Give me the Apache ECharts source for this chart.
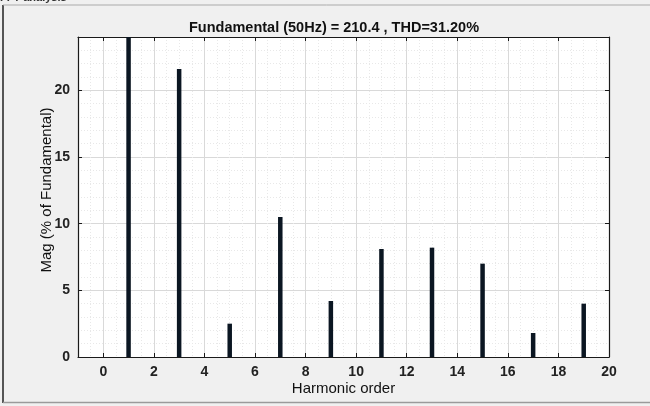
<!DOCTYPE html>
<html>
<head>
<meta charset="utf-8">
<script src="https://cdn.jsdelivr.net/npm/echarts@6/dist/echarts.min.js"></script>
<style>
html,body{margin:0;padding:0;background:#f0f0f0;}
#c{width:650px;height:406px;}
</style>
</head>
<body>
<div id="c"></div>
<script>
const harmonicOrder = [1, 3, 5, 7, 9, 11, 13, 15, 17, 19];
const magnitude = [100, 21.6, 2.5, 10.5, 4.2, 8.1, 8.2, 7.0, 1.8, 4.0];
const xTicks = [0, 2, 4, 6, 8, 10, 12, 14, 16, 18, 20];
const yTicks = [0, 5, 10, 15, 20];
const titleText = 'Fundamental (50Hz) = 210.4 , THD=31.20%';
const xName = 'Harmonic order';
const yName = 'Mag (% of Fundamental)';

const chart = echarts.init(document.getElementById('c'), null, {renderer: 'canvas'});
const font = 'Liberation Sans, Arial, sans-serif';
const lineCol = '#1a1a1a';
function mainAxis(extra) {
  return Object.assign({
    axisLine: {show: true, onZero: false, lineStyle: {color: lineCol, width: 1.2}},
    axisTick: {show: true, inside: true, length: 4, lineStyle: {color: lineCol}},
  }, extra);
}
const hiddenGrid = {
  axisLine: {show: false}, axisTick: {show: false}, axisLabel: {show: false},
  splitLine: {show: true, lineStyle: {color: '#e8e8e8', type: [1, 2], width: 1}}
};
chart.setOption({
  backgroundColor: '#f0f0f0',
  animation: false,
  grid: {left: 78, right: 41, top: 37, bottom: 49, show: true, backgroundColor: '#ffffff', borderWidth: 0},
  graphic: [
    {type: 'line', shape: {x1: 3, y1: 5, x2: 3, y2: 403}, style: {stroke: '#222', lineWidth: 1.5}},
    {type: 'line', shape: {x1: 3, y1: 5, x2: 650, y2: 5}, style: {stroke: '#aaaaaa', lineWidth: 1}},
    {type: 'line', shape: {x1: 3, y1: 402.5, x2: 650, y2: 402.5}, style: {stroke: '#9a9a9a', lineWidth: 1.5}},
    {type: 'text', left: 0, top: -8, style: {text: 'FFT analysis', font: 'bold 11px ' + font, fill: '#333'}},
    {type: 'text', x: 334, y: 28, style: {text: titleText, font: 'bold 14.5px ' + font, fill: '#111', textAlign: 'center', textVerticalAlign: 'middle'}}
  ],
  xAxis: [
    Object.assign({type: 'value', min: -1, max: 20, interval: 0.5, position: 'bottom'}, hiddenGrid),
    mainAxis({
      type: 'value', min: -1, max: 20, interval: 1, position: 'bottom',
      name: xName, nameLocation: 'middle', nameGap: 24, nameMoveOverlap: false,
      nameTextStyle: {fontFamily: font, fontSize: 15, color: '#111'},
      axisTick: {show: true, inside: true, length: 4, lineStyle: {color: lineCol}, customValues: xTicks},
      axisLabel: {fontFamily: font, fontSize: 14, fontWeight: 'bold', color: '#222', margin: 8, customValues: xTicks},
      splitLine: {show: true, lineStyle: {color: '#d9d9d9', width: 1}}
    }),
    mainAxis({
      type: 'value', min: -1, max: 20, interval: 1, position: 'top',
      axisTick: {show: true, inside: true, length: 4, lineStyle: {color: lineCol}, customValues: xTicks},
      axisLabel: {show: false, customValues: xTicks}, splitLine: {show: false}
    })
  ],
  yAxis: [
    Object.assign({type: 'value', min: 0, max: 24, interval: 1, position: 'left'}, hiddenGrid),
    mainAxis({
      type: 'value', min: 0, max: 24, interval: 1, position: 'left',
      name: yName, nameLocation: 'middle', nameGap: 24, nameRotate: 90, nameMoveOverlap: false,
      nameTextStyle: {fontFamily: font, fontSize: 15, color: '#111', padding: [0, 0, 0, 14]},
      axisTick: {show: true, inside: true, length: 4, lineStyle: {color: lineCol}, customValues: yTicks},
      axisLabel: {fontFamily: font, fontSize: 14, fontWeight: 'bold', color: '#222', margin: 8, customValues: yTicks},
      splitLine: {show: true, lineStyle: {color: '#d9d9d9', width: 1}}
    }),
    mainAxis({
      type: 'value', min: 0, max: 24, interval: 1, position: 'right',
      axisTick: {show: true, inside: true, length: 4, lineStyle: {color: lineCol}, customValues: yTicks},
      axisLabel: {show: false, customValues: yTicks}, splitLine: {show: false}
    })
  ],
  series: [{
    type: 'bar',
    xAxisIndex: 1, yAxisIndex: 1,
    barWidth: 4.5,
    clip: true,
    itemStyle: {color: '#0b1622'},
    data: harmonicOrder.map((h, i) => [h, magnitude[i]])
  }]
});
</script>
</body>
</html>
